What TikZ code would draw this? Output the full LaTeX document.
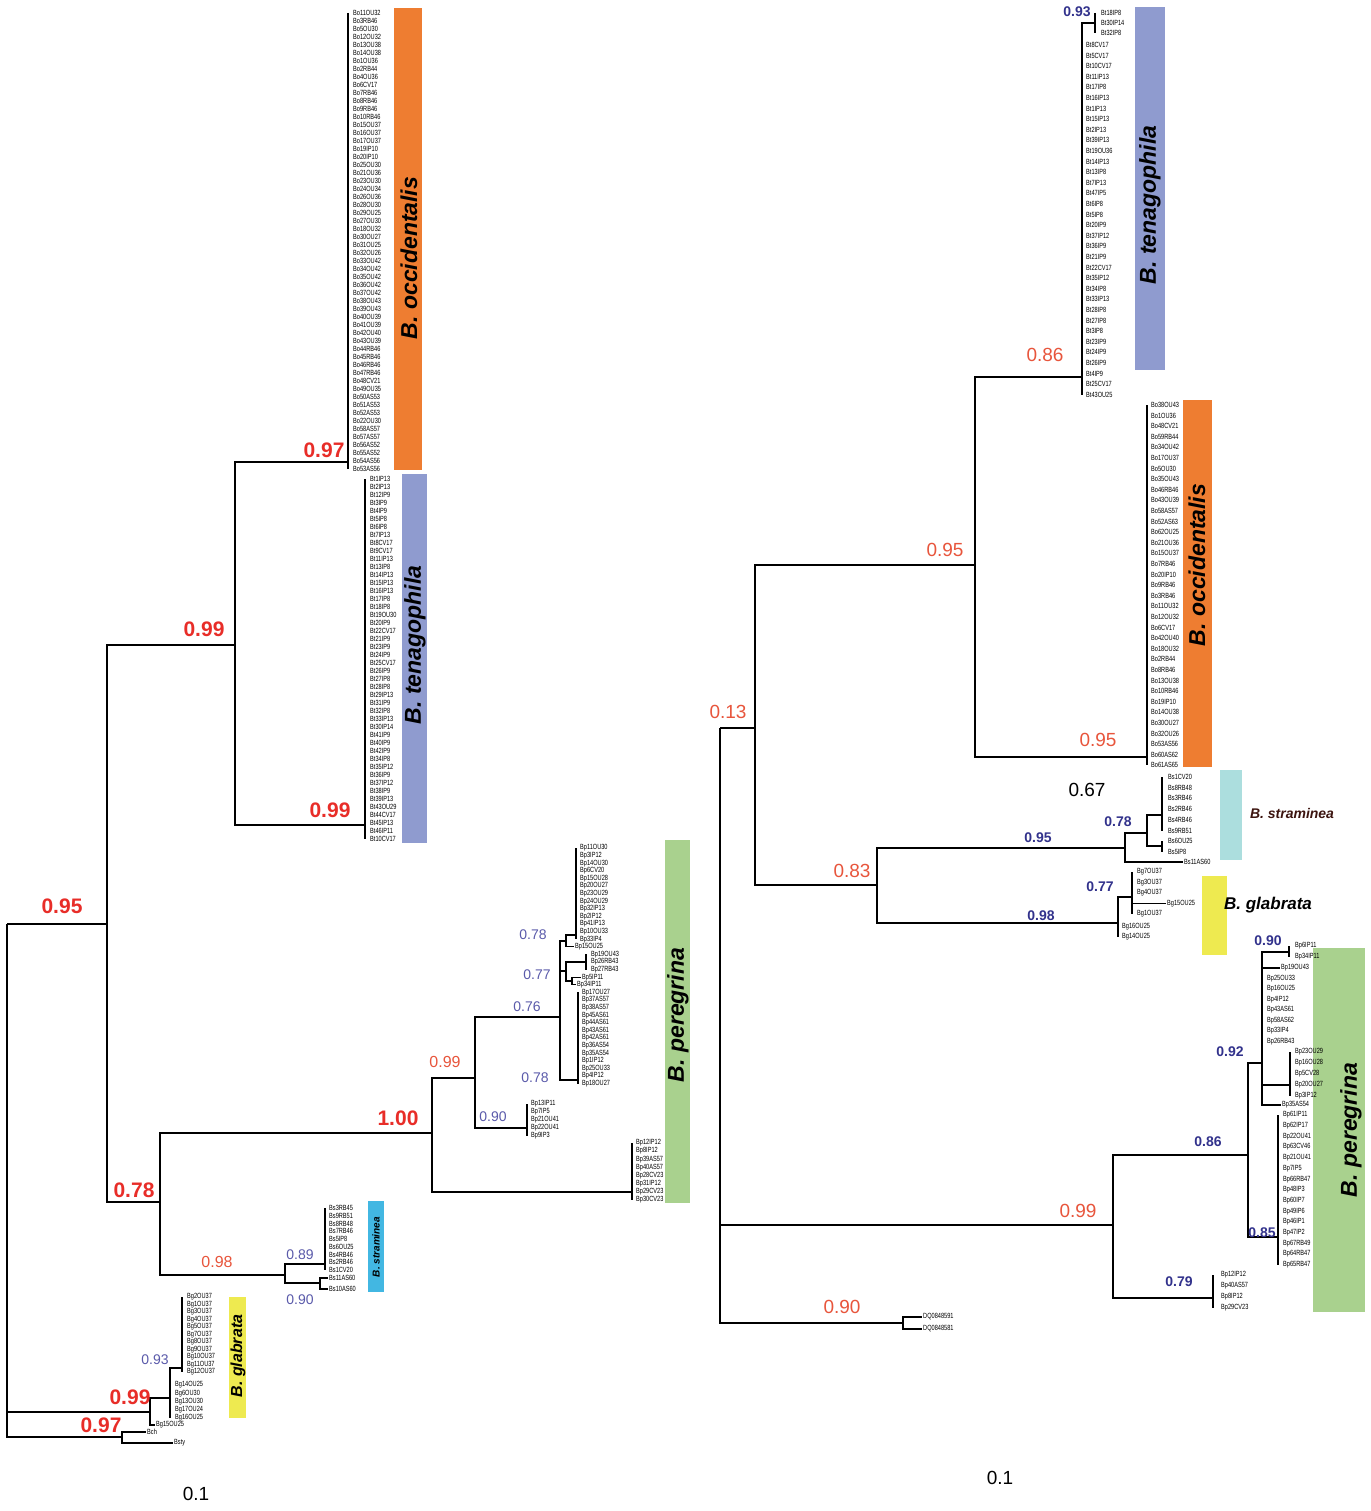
\documentclass[tikz,border=0pt]{standalone}
\usepackage{fontspec}
\setmainfont{Liberation Sans}
\newfontfamily\tipfont{Liberation Sans}[FakeStretch=0.75]

\definecolor{occ}{RGB}{238,125,49}
\definecolor{ten}{RGB}{143,155,207}
\definecolor{per}{RGB}{169,209,142}
\definecolor{straL}{RGB}{66,183,226}
\definecolor{straR}{RGB}{172,222,222}
\definecolor{glab}{RGB}{238,234,80}
\definecolor{supred}{RGB}{232,45,40}
\definecolor{supor}{RGB}{232,85,60}
\definecolor{supblue}{RGB}{90,90,170}
\definecolor{supnavy}{RGB}{50,50,140}

\begin{document}
\begin{tikzpicture}[x=1pt, y=-1pt,
    branch/.style={line width=2pt},
    twig/.style={line width=1.3pt},
    tip/.style={font=\tipfont\fontsize{7.5}{8}\selectfont, anchor=west, inner xsep=1pt, inner ysep=0pt},
    bigsup/.style={font=\bfseries\fontsize{21}{21}\selectfont, text=supred, inner sep=0pt},
    leftsup/.style={font=\fontsize{16}{16}\selectfont, text=supor, inner sep=0pt},
    bluesup/.style={font=\fontsize{14}{14}\selectfont, text=supblue, inner sep=0pt},
    midsup/.style={font=\fontsize{19}{19}\selectfont, text=supor, inner sep=0pt},
    navysup/.style={font=\bfseries\fontsize{14}{14}\selectfont, text=supnavy, inner sep=0pt},
    taxon/.style={font=\bfseries\itshape\fontsize{23}{23}\selectfont, rotate=90, inner sep=0pt},
  ]
  \fill[white] (0,0) rectangle (1370,1511);
  \useasboundingbox (0,0) rectangle (1370,1511);

  % species bars
  \fill[occ] (394,8) rectangle (422,470);
  \fill[ten] (402,474) rectangle (427,843);
  \fill[per] (665,840) rectangle (690,1203);
  \fill[straL] (368,1201) rectangle (384,1292);
  \fill[glab] (229,1297) rectangle (246,1418);
  \fill[ten] (1135,7) rectangle (1165,370);
  \fill[occ] (1183,400) rectangle (1212,767);
  \fill[straR] (1220,770) rectangle (1242,860);
  \fill[glab] (1202,876) rectangle (1227,955);
  \fill[per] (1313,948) rectangle (1365,1312);

  \node[taxon] (tLocc) at (409,258) {B. occidentalis};
  \node[taxon] (tLten) at (415,645) {B. tenagophila};
  \node[taxon] (tLper) at (678,1015) {B. peregrina};
  \node[taxon, font=\bfseries\itshape\fontsize{10}{10}\selectfont] (tLsta) at (376,1247) {B. straminea};
  \node[taxon, font=\bfseries\itshape\fontsize{16}{16}\selectfont] (tLgla) at (238,1356) {B. glabrata};
  \node[taxon] (tRten) at (1150,205) {B. tenagophila};
  \node[taxon] (tRocc) at (1197,565) {B. occidentalis};
  \node[taxon] (tRper) at (1351,1130) {B. peregrina};
  \node[font=\bfseries\itshape\fontsize{14}{14}\selectfont, text={rgb,255:red,60;green,20;blue,15}] (tRsta) at (1292,813) {B. straminea};
  \node[font=\bfseries\itshape\fontsize{17}{17}\selectfont] (tRgla) at (1268,905) {B. glabrata};

  % left tree
  \coordinate (Lroot) at (7,924);
  \coordinate (Lb) at (107,924);
  \coordinate (La) at (235,645);
  \coordinate (Locc) at (348,462);
  \coordinate (Lten) at (365,825);
  \coordinate (Lc) at (160,1202);
  \coordinate (Lp) at (432,1133);
  \coordinate (LpB) at (475,1078);
  \coordinate (LpC) at (560,1017);
  \coordinate (LpD) at (566,941);
  \coordinate (LpD1) at (576,935);
  \coordinate (LpE) at (566,971);
  \coordinate (LpE1) at (586,962);
  \coordinate (LpE2) at (572,981);
  \coordinate (LpG) at (578,1080);
  \coordinate (LpH) at (527,1128);
  \coordinate (LpI) at (632,1192);
  \coordinate (Ls) at (285,1275);
  \coordinate (Ls1) at (325,1264);
  \coordinate (Ls2) at (320,1283);
  \coordinate (Lg) at (150,1412);
  \coordinate (Lg1) at (170,1398);
  \coordinate (Lg2) at (182,1368);
  \coordinate (Lo) at (122,1437);

  \draw[branch] (Lroot) |- (Lb);
  \draw[branch] (Lroot) |- (Lg);
  \draw[branch] (Lroot) |- (Lo);
  \draw[branch] (Lb) |- (La);
  \draw[branch] (Lb) |- (Lc);
  \draw[branch] (La) |- (Locc);
  \draw[branch] (La) |- (Lten);
  \draw[branch] (Lc) |- (Lp);
  \draw[branch] (Lc) |- (Ls);
  \draw[branch] (Lp) |- (LpB);
  \draw[branch] (Lp) |- (LpI);
  \draw[branch] (LpB) |- (LpC);
  \draw[branch] (LpB) |- (LpH);
  \draw[branch] (LpC) |- (LpD);
  \draw[branch] (LpC) |- (LpE);
  \draw[branch] (LpC) |- (LpG);
  \draw[branch] (LpD) |- (LpD1);
  \draw[branch] (LpE) |- (LpE1);
  \draw[branch] (LpE) |- (LpE2);
  \draw[branch] (Ls) |- (Ls1);
  \draw[branch] (Ls) |- (Ls2);
  \draw[branch] (Lg) |- (Lg1);
  \draw[branch] (Lg1) |- (Lg2);

  % left tips
  \foreach \t [count=\i from 0] in {Bo11OU32,Bo3RB46,Bo5OU30,Bo12OU32,Bo13OU38,Bo14OU38,Bo1OU36,Bo2RB44,Bo4OU36,Bo6CV17,Bo7RB46,Bo8RB46,Bo9RB46,Bo10RB46,Bo15OU37,Bo16OU37,Bo17OU37,Bo19IP10,Bo20IP10,Bo25OU30,Bo21OU36,Bo23OU30,Bo24OU34,Bo26OU36,Bo28OU30,Bo29OU25,Bo27OU30,Bo18OU32,Bo30OU27,Bo31OU25,Bo32OU26,Bo33OU42,Bo34OU42,Bo35OU42,Bo36OU42,Bo37OU42,Bo38OU43,Bo39OU43,Bo40OU39,Bo41OU39,Bo42OU40,Bo43OU39,Bo44RB46,Bo45RB46,Bo46RB46,Bo47RB46,Bo48CV21,Bo49OU35,Bo50AS53,Bo51AS53,Bo52AS53,Bo22OU30,Bo58AS57,Bo57AS57,Bo56AS52,Bo55AS52,Bo54AS56,Bo53AS56}
    \node[tip] (lo\i) at (352,{13+8*\i}) {\t};
  \draw[twig] (Locc |- lo0) -- (Locc |- lo57);

  \foreach \t [count=\i from 0] in {Bt1IP13,Bt2IP13,Bt12IP9,Bt3IP9,Bt4IP9,Bt5IP8,Bt6IP8,Bt7IP13,Bt8CV17,Bt9CV17,Bt11IP13,Bt13IP8,Bt14IP13,Bt15IP13,Bt16IP13,Bt17IP8,Bt18IP8,Bt19OU30,Bt20IP9,Bt22CV17,Bt21IP9,Bt23IP9,Bt24IP9,Bt25CV17,Bt26IP9,Bt27IP8,Bt28IP8,Bt29IP13,Bt31IP9,Bt32IP8,Bt33IP13,Bt30IP14,Bt41IP9,Bt40IP9,Bt42IP9,Bt34IP8,Bt35IP12,Bt36IP9,Bt37IP12,Bt38IP9,Bt39IP13,Bt43OU29,Bt44CV17,Bt45IP13,Bt46IP11,Bt10CV17}
    \node[tip] (lt\i) at (369,{479+8*\i}) {\t};
  \draw[twig] (Lten |- lt0) -- (Lten |- lt45);

  \foreach \t [count=\i from 0] in {Bp11OU30,Bp3IP12,Bp14OU30,Bp6CV20,Bp15OU28,Bp20OU27,Bp23OU29,Bp24OU29,Bp32IP13,Bp2IP12,Bp41IP13,Bp10OU33,Bp33IP4}
    \node[tip] (lpa\i) at (579,{848+7.6*\i}) {\t};
  \draw[twig] (LpD1 |- lpa0) -- (LpD1 |- lpa12);
  \node[tip] (lpb) at (574,946.8) {Bp15OU25};
  \draw[twig] (LpD) |- (lpb.west);
  \foreach \t [count=\i from 0] in {Bp19OU43,Bp26RB43,Bp27RB43}
    \node[tip] (lpc\i) at (590,{954.4+7.6*\i}) {\t};
  \draw[twig] (LpE1 |- lpc0) -- (LpE1 |- lpc2);
  \node[tip] (lpd0) at (581,977.2) {Bp5IP11};
  \node[tip] (lpd1) at (576,984.8) {Bp34IP11};
  \draw[twig] (LpE2) |- (lpd0.west);
  \draw[twig] (LpE2) |- (lpd1.west);
  \foreach \t [count=\i from 0] in {Bp17OU27,Bp37AS57,Bp38AS57,Bp45AS61,Bp44AS61,Bp43AS61,Bp42AS61,Bp36AS54,Bp35AS54,Bp1IP12,Bp25OU33,Bp4IP12,Bp18OU27}
    \node[tip] (lpe\i) at (581,{992.4+7.6*\i}) {\t};
  \draw[twig] (LpG |- lpe0) -- (LpG |- lpe12);
  \foreach \t [count=\i from 0] in {Bp13IP11,Bp7IP5,Bp21OU41,Bp22OU41,Bp9IP3}
    \node[tip] (lph\i) at (530,{1104+8*\i}) {\t};
  \draw[twig] (LpH |- lph0) -- (LpH |- lph4);
  \foreach \t [count=\i from 0] in {Bp12IP12,Bp8IP12,Bp39AS57,Bp40AS57,Bp28CV23,Bp31IP12,Bp29CV23,Bp30CV23}
    \node[tip] (lpi\i) at (635,{1143+8.1*\i}) {\t};
  \draw[twig] (LpI |- lpi0) -- (LpI |- lpi7);

  \foreach \t [count=\i from 0] in {Bs3RB45,Bs9RB51,Bs8RB48,Bs7RB46,Bs5IP8,Bs6OU25,Bs4RB46,Bs2RB46,Bs1CV20}
    \node[tip] (ls\i) at (328,{1208+7.75*\i}) {\t};
  \draw[twig] (Ls1 |- ls0) -- (Ls1 |- ls8);
  \node[tip] (ls9) at (328,1278) {Bs11AS60};
  \node[tip] (ls10) at (328,1289) {Bs10AS60};
  \draw[twig] (Ls2) |- (ls9.west);
  \draw[twig] (Ls2) |- (ls10.west);

  \foreach \t [count=\i from 0] in {Bg2OU37,Bg1OU37,Bg3OU37,Bg4OU37,Bg5OU37,Bg7OU37,Bg8OU37,Bg9OU37,Bg10OU37,Bg11OU37,Bg12OU37}
    \node[tip] (lg\i) at (186,{1297+7.5*\i}) {\t};
  \draw[twig] (Lg2 |- lg0) -- (Lg2 |- lg10);
  \foreach \t [count=\i from 0] in {Bg14OU25,Bg6OU30,Bg13OU30,Bg17OU24,Bg16OU25}
    \node[tip] (lgb\i) at (174,{1385+8.25*\i}) {\t};
  \draw[twig] (Lg1) -- (Lg1 |- lgb4);
  \node[tip] (lgc) at (155,1425) {Bg15OU25};
  \draw[twig] (Lg) |- (lgc.west);
  \node[tip] (bch) at (146,1432) {Bch};
  \node[tip] (bsty) at (173,1443) {Bsty};
  \draw[twig] (Lo) |- (bch.west);
  \draw[twig] (Lo) |- (bsty.west);

  % left supports
  \node[bigsup] (sL1) at (62,906) {0.95};
  \node[bigsup] (sL2) at (204,629) {0.99};
  \node[bigsup] (sL3) at (324,450) {0.97};
  \node[bigsup] (sL4) at (330,810) {0.99};
  \node[bigsup] (sL5) at (134,1190) {0.78};
  \node[bigsup] (sL6) at (398,1118) {1.00};
  \node[leftsup] (sL7) at (445,1062) {0.99};
  \node[bluesup] (sL8) at (533,935) {0.78};
  \node[bluesup] (sL9) at (537,975) {0.77};
  \node[bluesup] (sL10) at (527,1007) {0.76};
  \node[bluesup] (sL11) at (535,1078) {0.78};
  \node[bluesup] (sL12) at (493,1117) {0.90};
  \node[leftsup] (sL13) at (217,1262) {0.98};
  \node[bluesup] (sL14) at (300,1255) {0.89};
  \node[bluesup] (sL15) at (300,1300) {0.90};
  \node[bluesup] (sL16) at (155,1360) {0.93};
  \node[bigsup] (sL17) at (130,1397) {0.99};
  \node[bigsup] (sL18) at (101,1425) {0.97};

  % right tree
  \coordinate (Rroot) at (720,728);
  \coordinate (Ra) at (755,728);
  \coordinate (Rb) at (975,565);
  \coordinate (Rten) at (1082,377);
  \coordinate (Rten1) at (1095,23);
  \coordinate (Rocc) at (1147,757);
  \coordinate (Rc) at (877,885);
  \coordinate (Rs) at (1125,848);
  \coordinate (Rs1) at (1147,833);
  \coordinate (Rs2) at (1162,815);
  \coordinate (Rs3) at (1162,846);
  \coordinate (Rg) at (1118,923);
  \coordinate (Rg1) at (1132,897);
  \coordinate (Rp) at (1113,1225);
  \coordinate (Rp86) at (1248,1155);
  \coordinate (Rp92) at (1262,1063);
  \coordinate (Rp90) at (1289,952);
  \coordinate (Rpx) at (1290,1085);
  \coordinate (Rp85) at (1278,1237);
  \coordinate (Rp79) at (1213,1298);
  \coordinate (Rdq) at (903,1323);

  \draw[branch] (Rroot) |- (Ra);
  \draw[branch] (Rroot) |- (Rp);
  \draw[branch] (Rroot) |- (Rdq);
  \draw[branch] (Ra) |- (Rb);
  \draw[branch] (Ra) |- (Rc);
  \draw[branch] (Rb) |- (Rten);
  \draw[branch] (Rb) |- (Rocc);
  \draw[branch] (Rten) |- (Rten1);
  \draw[branch] (Rc) |- (Rs);
  \draw[branch] (Rc) |- (Rg);
  \draw[branch] (Rs) |- (Rs1);
  \draw[branch] (Rs1) |- (Rs2);
  \draw[branch] (Rs1) |- (Rs3);
  \draw[branch] (Rg) |- (Rg1);
  \draw[branch] (Rp) |- (Rp86);
  \draw[branch] (Rp) |- (Rp79);
  \draw[branch] (Rp86) |- (Rp92);
  \draw[branch] (Rp86) |- (Rp85);
  \draw[branch] (Rp92) |- (Rp90);
  \draw[branch] (Rp92) |- (Rpx);

  % right tips
  \foreach \t [count=\i from 0] in {Bt18IP8,Bt30IP14,Bt32IP8}
    \node[tip] (rta\i) at (1100,{13+10*\i}) {\t};
  \draw[twig] (Rten1 |- rta0) -- (Rten1 |- rta2);
  \foreach \t [count=\i from 0] in {Bt8CV17,Bt5CV17,Bt10CV17,Bt11IP13,Bt17IP8,Bt16IP13,Bt1IP13,Bt15IP13,Bt2IP13,Bt39IP13,Bt19OU36,Bt14IP13,Bt13IP8,Bt7IP13,Bt47IP5,Bt6IP8,Bt5IP8,Bt20IP9,Bt37IP12,Bt36IP9,Bt21IP9,Bt22CV17,Bt35IP12,Bt34IP8,Bt33IP13,Bt28IP8,Bt27IP8,Bt3IP8,Bt23IP9,Bt24IP9,Bt26IP9,Bt4IP9,Bt25CV17,Bt43OU25}
    \node[tip] (rt\i) at (1085,{45+10.6*\i}) {\t};
  \draw[twig] (Rten) -- (Rten |- rt33);

  \foreach \t [count=\i from 0] in {Bo38OU43,Bo1OU36,Bo48CV21,Bo59RB44,Bo34OU42,Bo17OU37,Bo5OU30,Bo35OU43,Bo46RB46,Bo43OU39,Bo58AS57,Bo52AS63,Bo62OU25,Bo21OU36,Bo15OU37,Bo7RB46,Bo20IP10,Bo9RB46,Bo3RB46,Bo11OU32,Bo12OU32,Bo6CV17,Bo42OU40,Bo18OU32,Bo2RB44,Bo8RB46,Bo13OU38,Bo10RB46,Bo19IP10,Bo14OU38,Bo30OU27,Bo32OU26,Bo53AS56,Bo60AS62,Bo61AS65}
    \node[tip] (ro\i) at (1150,{405+10.6*\i}) {\t};
  \draw[twig] (Rocc |- ro0) -- (Rocc |- ro34);

  \foreach \t [count=\i from 0] in {Bs1CV20,Bs8RB48,Bs3RB46,Bs2RB46,Bs4RB46,Bs9RB51,Bs6OU25,Bs5IP8}
    \node[tip] (rs\i) at (1167,{777+10.7*\i}) {\t};
  \draw[twig] (Rs2 |- rs0) -- (Rs2 |- rs5);
  \draw[twig] (Rs3 |- rs6) -- (Rs3 |- rs7);
  \node[tip] (rs8) at (1183,862) {Bs11AS60};
  \draw[twig] (Rs) |- (rs8.west);

  \foreach \t/\y [count=\i from 0] in {Bg7OU37/872,Bg3OU37/882.5,Bg4OU37/893,Bg1OU37/914}
    \node[tip] (rg\i) at (1136,\y) {\t};
  \draw[twig] (Rg1 |- rg0) -- (Rg1 |- rg3);
  \node[tip] (rg4) at (1166,903.5) {Bg15OU25};
  \draw[twig] (Rg1) |- (rg4.west);
  \node[tip] (rg5) at (1121,927) {Bg16OU25};
  \node[tip] (rg6) at (1121,937) {Bg14OU25};
  \draw[twig] (Rg) -- (Rg |- rg6);

  \node[tip] (rpa0) at (1294,946) {Bp6IP11};
  \node[tip] (rpa1) at (1294,957) {Bp34IP11};
  \draw[twig] (Rp90 |- rpa0) -- (Rp90 |- rpa1);
  \node[tip] (rpq) at (1280,968) {Bp19OU43};
  \draw[twig] (Rp92) |- (rpq.west);
  \foreach \t [count=\i from 0] in {Bp25OU33,Bp16OU25,Bp4IP12,Bp43AS61,Bp58AS62,Bp33IP4,Bp26RB43}
    \node[tip] (rpb\i) at (1266,{978.5+10.5*\i}) {\t};
  \foreach \t [count=\i from 0] in {Bp23OU29,Bp16OU28,Bp5CV28,Bp20OU27,Bp3IP12}
    \node[tip] (rpc\i) at (1294,{1052+11*\i}) {\t};
  \draw[twig] (Rpx |- rpc0) -- (Rpx |- rpc4);
  \node[tip] (rpz) at (1281,1105) {Bp35AS54};
  \draw[twig] (Rp92) |- (rpz.west);
  \foreach \t [count=\i from 0] in {Bp61IP11,Bp62IP17,Bp22OU41,Bp63CV46,Bp21OU41,Bp7IP5,Bp66RB47,Bp48IP3,Bp60IP7,Bp49IP6,Bp46IP1,Bp47IP2,Bp67RB49,Bp64RB47,Bp65RB47}
    \node[tip] (rpd\i) at (1282,{1115+10.7*\i}) {\t};
  \draw[twig] (Rp85 |- rpd0) -- (Rp85 |- rpd14);
  \foreach \t [count=\i from 0] in {Bp12IP12,Bp40AS57,Bp8IP12,Bp29CV23}
    \node[tip] (rpe\i) at (1220,{1275+11*\i}) {\t};
  \draw[twig] (Rp79 |- rpe0) -- (Rp79 |- rpe3);

  \node[tip] (dq0) at (922,1317) {DQ0848591};
  \node[tip] (dq1) at (922,1329) {DQ0848581};
  \draw[twig] (Rdq) |- (dq0.west);
  \draw[twig] (Rdq) |- (dq1.west);

  % right supports
  \node[navysup] (sR1) at (1077,12) {0.93};
  \node[midsup] (sR2) at (1045,355) {0.86};
  \node[midsup] (sR3) at (945,550) {0.95};
  \node[midsup] (sR4) at (1098,740) {0.95};
  \node[midsup] (sR5) at (728,712) {0.13};
  \node[midsup, text=black] (sR6) at (1087,790) {0.67};
  \node[navysup] (sR7) at (1118,822) {0.78};
  \node[navysup] (sR8) at (1038,838) {0.95};
  \node[midsup] (sR9) at (852,871) {0.83};
  \node[navysup] (sR10) at (1100,887) {0.77};
  \node[navysup] (sR11) at (1041,916) {0.98};
  \node[navysup] (sR12) at (1268,941) {0.90};
  \node[navysup] (sR13) at (1230,1052) {0.92};
  \node[navysup] (sR14) at (1208,1142) {0.86};
  \node[midsup] (sR15) at (1078,1211) {0.99};
  \node[navysup] (sR16) at (1262,1233) {0.85};
  \node[navysup] (sR17) at (1179,1282) {0.79};
  \node[midsup] (sR18) at (842,1307) {0.90};

  % scale labels
  \node[font=\fontsize{19}{19}\selectfont] (scL) at (196,1494) {0.1};
  \node[font=\fontsize{19}{19}\selectfont] (scR) at (1000,1478) {0.1};
\end{tikzpicture}
\end{document}
